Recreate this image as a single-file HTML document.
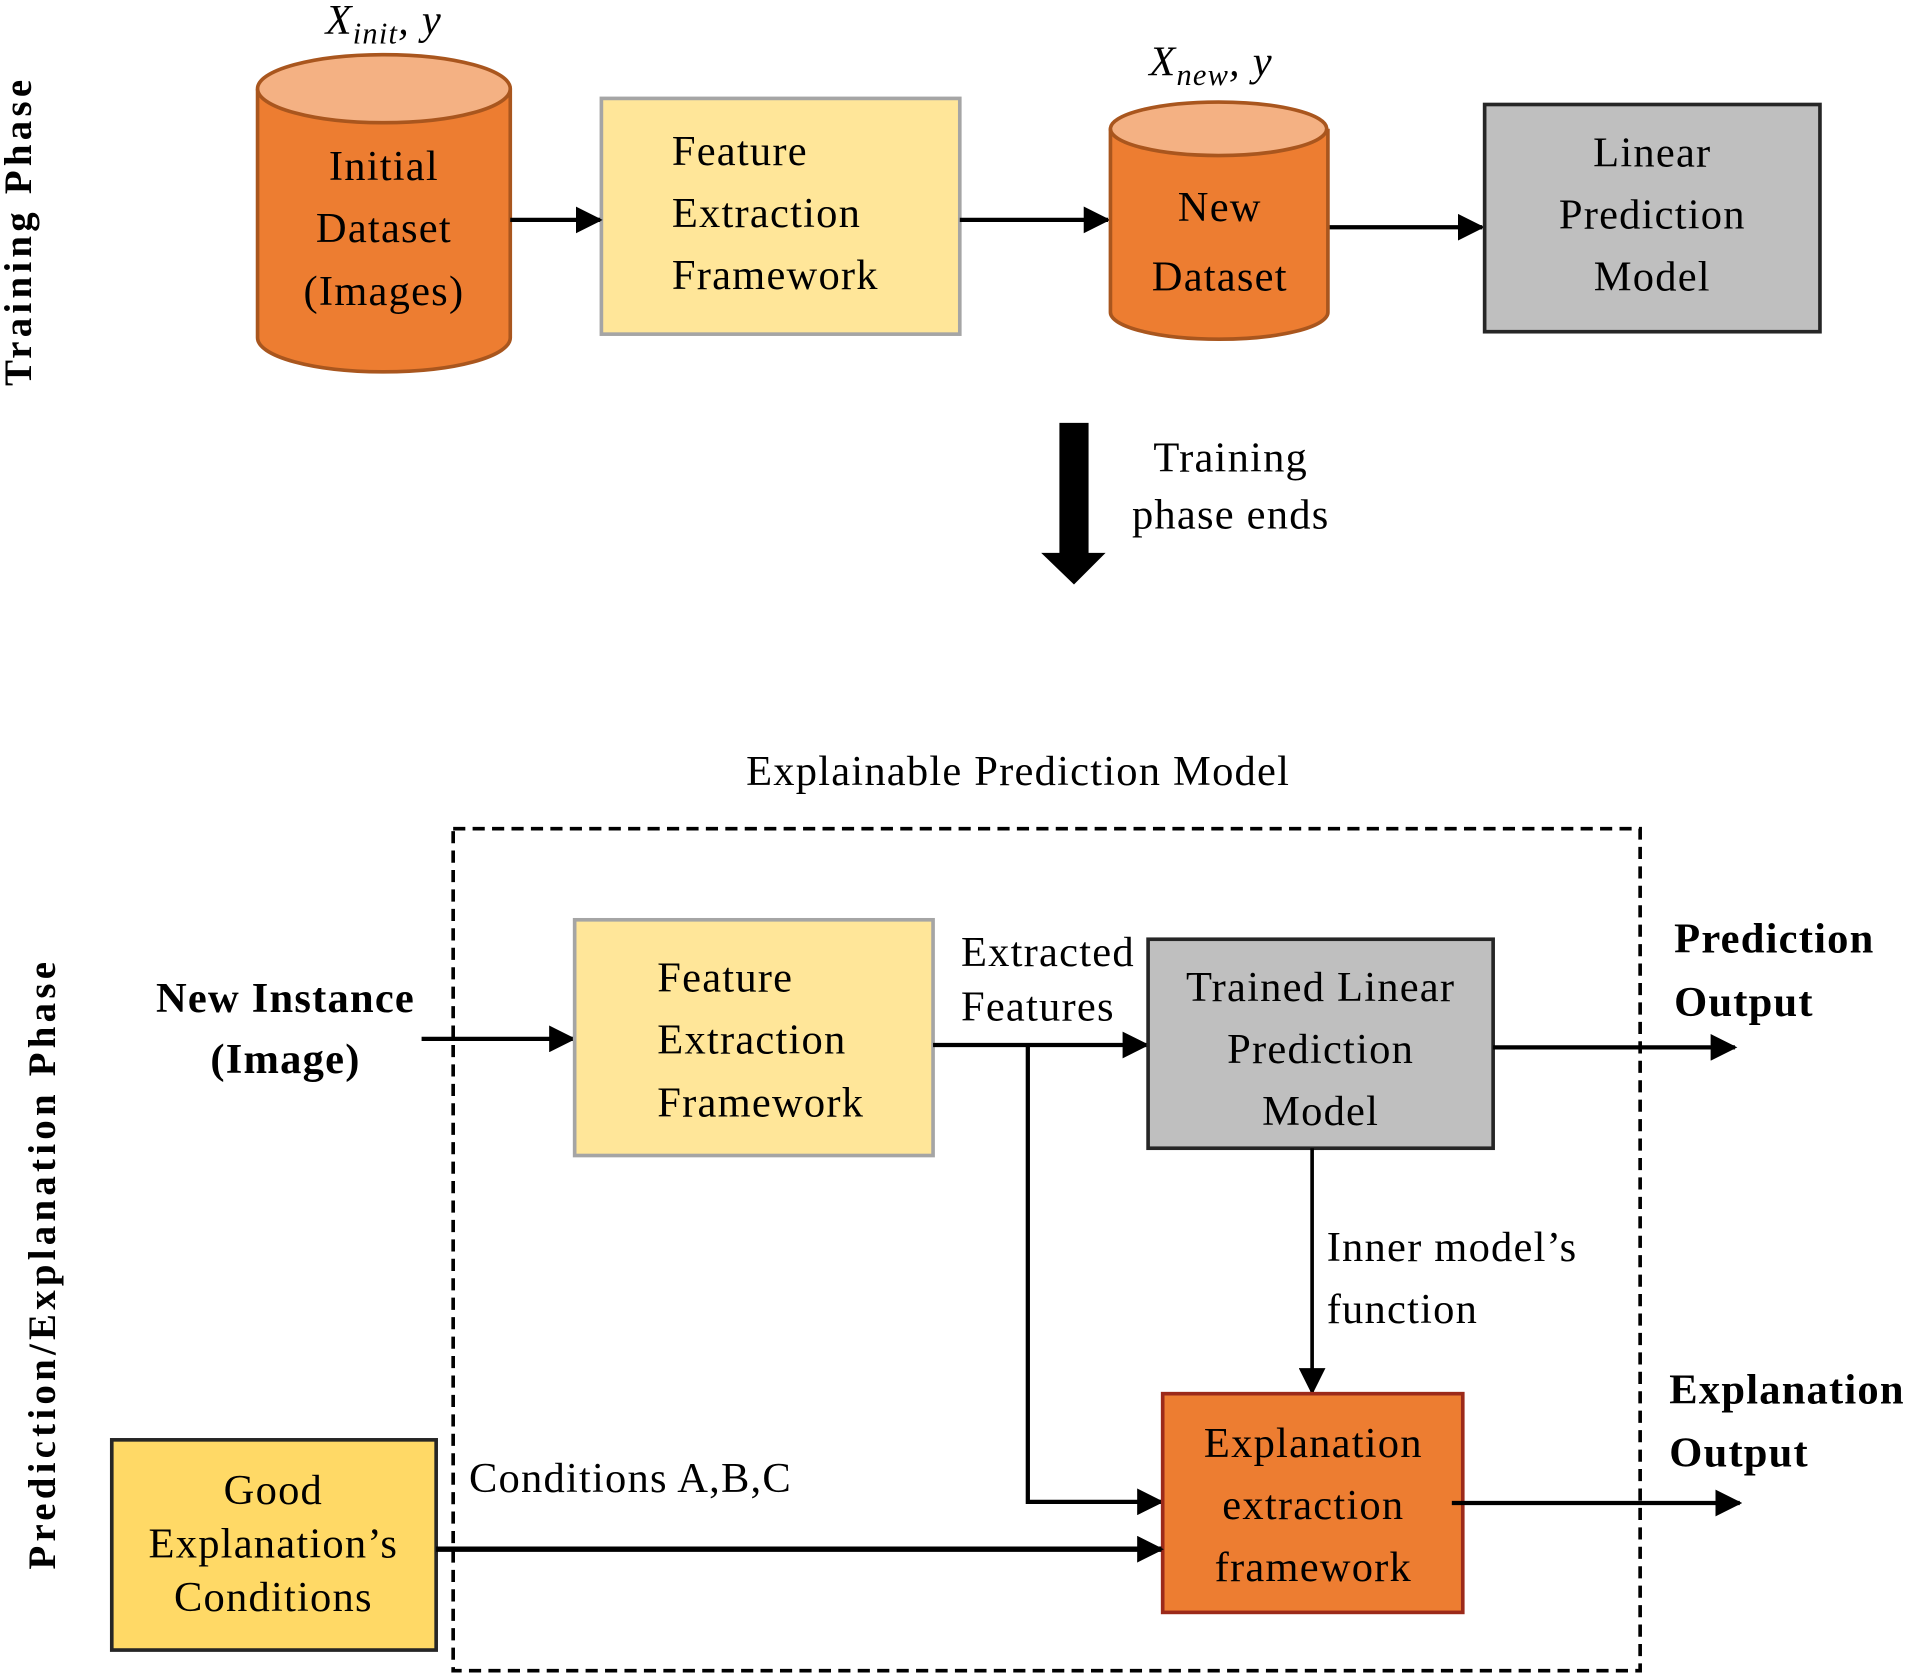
<!DOCTYPE html>
<html><head><meta charset="utf-8"><style>html,body{margin:0;padding:0;background:#fff}svg{display:block}</style></head>
<body>
<svg width="1905" height="1678" viewBox="0 0 1568 1381" preserveAspectRatio="none" xmlns="http://www.w3.org/2000/svg" font-family="'Liberation Serif', serif" font-size="35" letter-spacing="1" fill="#000">
<defs>
<marker id="ah" markerWidth="22" markerHeight="22" refX="20" refY="11" orient="auto" markerUnits="userSpaceOnUse" viewBox="0 0 22 22"><path d="M0,0 L22,11 L0,22 z" fill="#000"/></marker>
</defs>
<g transform="rotate(-90 18 190)"><text x="18" y="190" font-weight="bold" font-size="32" letter-spacing="3.5" text-anchor="middle" dominant-baseline="middle">Training Phase</text></g>
<g transform="rotate(-90 38 1040)"><text x="38" y="1040" font-weight="bold" font-size="32" letter-spacing="3.5" text-anchor="middle" dominant-baseline="middle">Prediction/Explanation Phase</text></g>

<path d="M212,73 L212,278 A104,28 0 0 0 420,278 L420,73" fill="#ED7D31" stroke="#A9561E" stroke-width="3"/>
<ellipse cx="316" cy="73" rx="104" ry="28" fill="#F4B183" stroke="#A9561E" stroke-width="3"/>
<text x="316" y="148" text-anchor="middle">Initial</text>
<text x="316" y="199" text-anchor="middle">Dataset</text>
<text x="316" y="251" text-anchor="middle">(Images)</text>
<text x="268" y="28" font-style="italic" font-size="35">X<tspan font-size="25" dy="8">init</tspan><tspan dy="-8">, y</tspan></text>

<rect x="495" y="81" width="295" height="194" fill="#FFE699" stroke="#A5A5A5" stroke-width="3"/>
<text x="553" y="136">Feature</text>
<text x="553" y="187">Extraction</text>
<text x="553" y="238">Framework</text>

<line x1="420" y1="181" x2="494" y2="181" stroke="#000" stroke-width="3.5" marker-end="url(#ah)"/>
<line x1="790" y1="181" x2="912" y2="181" stroke="#000" stroke-width="3.5" marker-end="url(#ah)"/>
<line x1="1093" y1="187" x2="1220" y2="187" stroke="#000" stroke-width="3.5" marker-end="url(#ah)"/>

<path d="M914,106 L914,257 A89,22 0 0 0 1093,257 L1093,106" fill="#ED7D31" stroke="#A9561E" stroke-width="3"/>
<ellipse cx="1003" cy="106" rx="89" ry="22" fill="#F4B183" stroke="#A9561E" stroke-width="3"/>
<text x="1004" y="182" text-anchor="middle">New</text>
<text x="1004" y="239" text-anchor="middle">Dataset</text>
<text x="946" y="62" font-style="italic" font-size="35">X<tspan font-size="25" dy="8">new</tspan><tspan dy="-8">, y</tspan></text>

<rect x="1222" y="86" width="276" height="187" fill="#BFBFBF" stroke="#262626" stroke-width="3"/>
<text x="1360" y="137" text-anchor="middle">Linear</text>
<text x="1360" y="188" text-anchor="middle">Prediction</text>
<text x="1360" y="239" text-anchor="middle">Model</text>

<path d="M872,348 L896,348 L896,455 L910,455 L884,481 L857,455 L872,455 z" fill="#000"/>
<text x="1013" y="388" text-anchor="middle">Training</text>
<text x="1013" y="435" text-anchor="middle">phase ends</text>

<text x="838" y="646" text-anchor="middle">Explainable Prediction Model</text>
<rect x="373" y="682" width="977" height="693" fill="none" stroke="#000" stroke-width="3" stroke-dasharray="10 6"/>

<text x="235" y="833" text-anchor="middle" font-weight="bold">New Instance</text>
<text x="235" y="883" text-anchor="middle" font-weight="bold">(Image)</text>
<line x1="347" y1="855" x2="472" y2="855" stroke="#000" stroke-width="3.5" marker-end="url(#ah)"/>

<rect x="473" y="757" width="295" height="194" fill="#FFE699" stroke="#A5A5A5" stroke-width="3"/>
<text x="541" y="816">Feature</text>
<text x="541" y="867">Extraction</text>
<text x="541" y="919">Framework</text>

<text x="791" y="795">Extracted</text>
<text x="791" y="840">Features</text>
<line x1="768" y1="860" x2="944" y2="860" stroke="#000" stroke-width="3.5" marker-end="url(#ah)"/>
<polyline points="846,860 846,1236 956,1236" fill="none" stroke="#000" stroke-width="3.5" marker-end="url(#ah)"/>

<rect x="945" y="773" width="284" height="172" fill="#BFBFBF" stroke="#262626" stroke-width="3"/>
<text x="1087" y="824" text-anchor="middle">Trained Linear</text>
<text x="1087" y="875" text-anchor="middle">Prediction</text>
<text x="1087" y="926" text-anchor="middle">Model</text>

<line x1="1229" y1="862" x2="1428" y2="862" stroke="#000" stroke-width="3.5" marker-end="url(#ah)"/>
<text x="1378" y="784" font-weight="bold">Prediction</text>
<text x="1378" y="836" font-weight="bold">Output</text>

<line x1="1080" y1="945" x2="1080" y2="1146" stroke="#000" stroke-width="3" marker-end="url(#ah)"/>
<text x="1092" y="1038">Inner model’s</text>
<text x="1092" y="1089">function</text>

<rect x="957" y="1147" width="247" height="180" fill="#ED7D31" stroke="#9C2A1A" stroke-width="3"/>
<text x="1081" y="1199" text-anchor="middle">Explanation</text>
<text x="1081" y="1250" text-anchor="middle">extraction</text>
<text x="1081" y="1301" text-anchor="middle">framework</text>

<line x1="1195" y1="1237" x2="1432" y2="1237" stroke="#000" stroke-width="3.5" marker-end="url(#ah)"/>
<text x="1374" y="1155" font-weight="bold">Explanation</text>
<text x="1374" y="1207" font-weight="bold">Output</text>

<rect x="92" y="1185" width="267" height="173" fill="#FFD966" stroke="#262626" stroke-width="3"/>
<text x="225" y="1238" text-anchor="middle">Good</text>
<text x="225" y="1282" text-anchor="middle">Explanation’s</text>
<text x="225" y="1326" text-anchor="middle">Conditions</text>

<line x1="359" y1="1275" x2="956" y2="1275" stroke="#000" stroke-width="4.5" marker-end="url(#ah)"/>
<text x="386" y="1228">Conditions A,B,C</text>
</svg>
</body></html>
